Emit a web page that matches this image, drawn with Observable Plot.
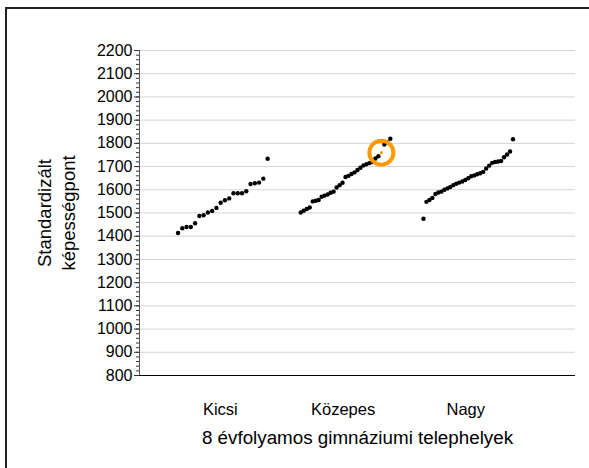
<!DOCTYPE html>
<html><head><meta charset="utf-8">
<script src="https://cdn.jsdelivr.net/npm/d3@7"></script>
<script src="https://cdn.jsdelivr.net/npm/@observablehq/plot@0.6"></script>
<style>
body{margin:0;background:#fff;font-family:"Liberation Sans",Arial,sans-serif;}
#wrap{position:relative;width:589px;height:468px;overflow:hidden;}
#frame{position:absolute;left:5px;top:7px;width:620px;height:520px;border:2px solid #222;box-sizing:border-box;}
#chart{position:absolute;left:0;top:0;}
</style></head><body>
<div id="wrap"><div id="frame"></div><div id="chart"></div></div>
<script>
const categories = ["Kicsi", "Közepes", "Nagy"];
const kicsi = [1414,1434,1440,1440,1456,1487,1490,1502,1509,1522,1544,1555,1563,1585,1585,1585,1594,1625,1628,1631,1648,1734];
const kozepes = [1502,1510,1517,1524,1550,1553,1556,1570,1575,1580,1587,1592,1610,1620,1630,1655,1660,1668,1675,1685,1695,1705,1710,1715,1720,1735,1745,1760,1795,1805,1820];
const nagy = [1475,1548,1556,1565,1582,1588,1592,1600,1606,1612,1620,1626,1631,1636,1642,1650,1658,1662,1667,1671,1677,1692,1704,1716,1720,1722,1724,1740,1752,1765,1818];
const yTicks = d3.range(800, 2201, 100);
const yMinorTicks = d3.range(800, 2201, 20);
const highlightGroup = 1;
const highlightIndex = 27;
const yTitle = "Standardizált\nképességpont";
const xTitle = "8 évfolyamos gimnáziumi telephelyek";

const series = [kicsi, kozepes, nagy];
const rows = series.flatMap((vals, g) => vals.map((v, i) => ({
  group: g, i, n: vals.length, value: v,
  hl: g === highlightGroup && i === highlightIndex
})));
rows.forEach(d => d.pos = d.group + 0.02 + (d.i / (d.n - 1) - 0.5) * 0.73);

const xDomain = [-0.659, 2.894];
const font = '"Liberation Sans", Arial, sans-serif';

const plot = Plot.plot({
  width: 589, height: 468,
  marginLeft: 139, marginRight: 14, marginTop: 50, marginBottom: 93,
  style: {fontFamily: font, fontSize: "16px", color: "#000", background: "transparent", overflow: "visible"},
  x: {domain: xDomain, axis: null, label: null},
  y: {domain: [800, 2200], axis: null, label: null},
  marks: [
    Plot.gridY(yTicks, {stroke: "#d4d4d4", strokeOpacity: 1}),
    Plot.axisY({ticks: yMinorTicks, tickSize: 3, tickFormat: () => "", label: null, stroke: "#333"}),
    Plot.axisY({ticks: yTicks, tickSize: 5, tickPadding: 2, tickFormat: d => String(d), fontSize: 16, label: null, stroke: "#333"}),
    Plot.ruleX([xDomain[0]], {stroke: "#555"}),
    Plot.ruleY([800], {stroke: "#000"}),
    Plot.axisX({ticks: [0, 1, 2], tickFormat: i => categories[i], tickSize: 0, tickPadding: 28, fontSize: 16.5, label: null}),
    Plot.dot(rows.filter(d => !d.hl), {x: "pos", y: "value", r: 2.2, fill: "#000", stroke: null}),
    Plot.dot(rows.filter(d => d.hl), {x: "pos", y: "value", r: 12, stroke: "#ff9900", strokeWidth: 4, fill: "none"}),
    Plot.dot(rows.filter(d => d.hl), {x: "pos", y: "value", r: 1.6, fill: "#ff9900", stroke: null}),
    Plot.text([xTitle], {frameAnchor: "bottom", dy: 68, lineAnchor: "bottom", fontSize: 18.8}),
    Plot.text([yTitle], {frameAnchor: "left", dx: -84, rotate: -90, fontSize: 18.5, lineHeight: 1.3, textAnchor: "middle"})
  ]
});
document.getElementById("chart").appendChild(plot);
</script>
</body></html>
